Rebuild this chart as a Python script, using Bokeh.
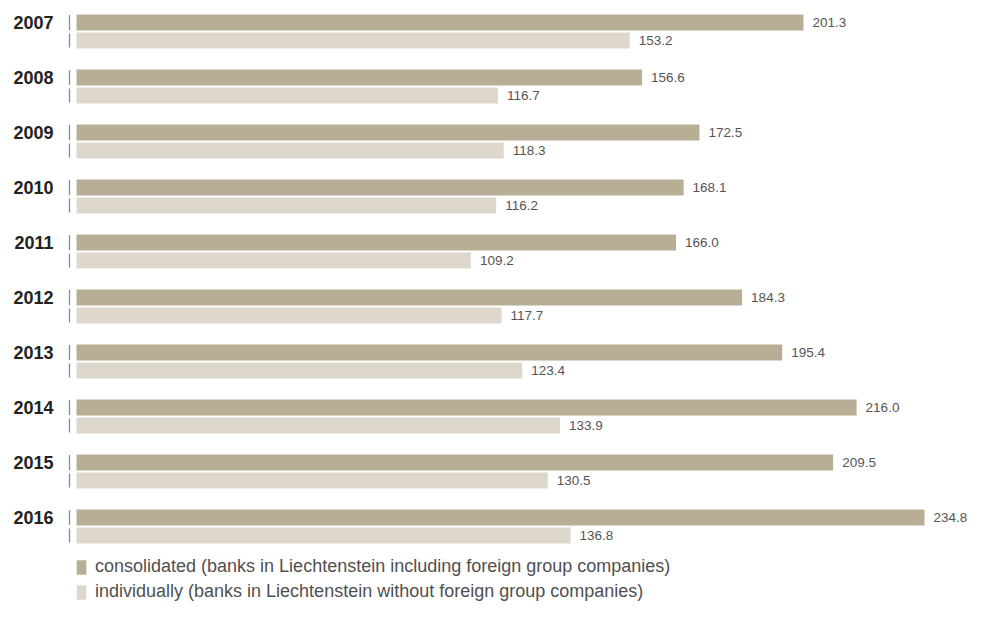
from bokeh.plotting import figure
from bokeh.models import Range1d, ColumnDataSource, Legend, LegendItem
from bokeh.core.properties import value
from bokeh.embed import file_html
from bokeh.resources import INLINE

years = ["2007", "2008", "2009", "2010", "2011", "2012", "2013", "2014", "2015", "2016"]
consolidated = [201.3, 156.6, 172.5, 168.1, 166.0, 184.3, 195.4, 216.0, 209.5, 234.8]
individually = [153.2, 116.7, 118.3, 116.2, 109.2, 117.7, 123.4, 133.9, 130.5, 136.8]
label_cons = "consolidated (banks in Liechtenstein including foreign group companies)"
label_ind = "individually (banks in Liechtenstein without foreign group companies)"

W, H = 967, 602
x0px = 76         # px position of zero
s = (924 - x0px) / 234.8   # px per unit, leaves room for the last value label
pitch = 55
bar_h = 16

FONT = "Liberation Sans"
DARK = "#b8ae96"
LIGHT = "#ded8cc"

n = len(years)
y_dark = [22 + pitch * i for i in range(n)]
y_light = [40 + pitch * i for i in range(n)]

p = figure(width=W, height=H, output_backend="svg", toolbar_location=None,
           x_range=Range1d(-x0px / s, (W - x0px) / s), y_range=Range1d(H, 0),
           min_border=0, outline_line_color=None)
p.xaxis.visible = False
p.yaxis.visible = False
p.xgrid.visible = False
p.ygrid.visible = False
p.background_fill_color = "white"

src_d = ColumnDataSource(dict(y=y_dark, v=consolidated, t=[f"{v:.1f}" for v in consolidated], yr=years))
src_l = ColumnDataSource(dict(y=y_light, v=individually, t=[f"{v:.1f}" for v in individually]))

r1 = p.hbar(y="y", left=0, right="v", height=bar_h, source=src_d, fill_color=DARK, line_color=None)
r2 = p.hbar(y="y", left=0, right="v", height=bar_h, source=src_l, fill_color=LIGHT, line_color=None)

tick_x = -7 / s
p.segment(x0=tick_x, x1=tick_x, y0=[y - 7.5 for y in y_dark], y1=[y + 7.5 for y in y_dark],
          line_color="#8a8a8a", line_width=1.3)
p.segment(x0=tick_x, x1=tick_x, y0=[y - 7 for y in y_light], y1=[y + 7 for y in y_light],
          line_color="#8a8a8a", line_width=1.3)

p.text(x="v", y="y", text="t", source=src_d, x_offset=9, text_baseline="middle", text_align="left",
       text_font=value(FONT), text_font_size="13.5px", text_color="#555555")
p.text(x="v", y="y", text="t", source=src_l, x_offset=9, text_baseline="middle", text_align="left",
       text_font=value(FONT), text_font_size="13.5px", text_color="#555555")

p.text(x=-23 / s, y="y", text="yr", source=src_d, text_baseline="middle", text_align="right",
       text_font=value(FONT), text_font_size="18px", text_font_style="bold", text_color="#222222")

legend = Legend(items=[LegendItem(label=label_cons, renderers=[r1]),
                       LegendItem(label=label_ind, renderers=[r2])],
                location=(x0px - 1, 0), orientation="vertical",
                glyph_width=12, glyph_height=18, label_height=18, spacing=4,
                padding=0, margin=0, border_line_color=None, background_fill_alpha=0,
                label_standoff=8, label_text_font=FONT, label_text_font_size="18px",
                label_text_color="#505050", label_text_baseline="middle")
p.add_layout(legend, "center")

open("out.html", "w").write(file_html(p, INLINE))
